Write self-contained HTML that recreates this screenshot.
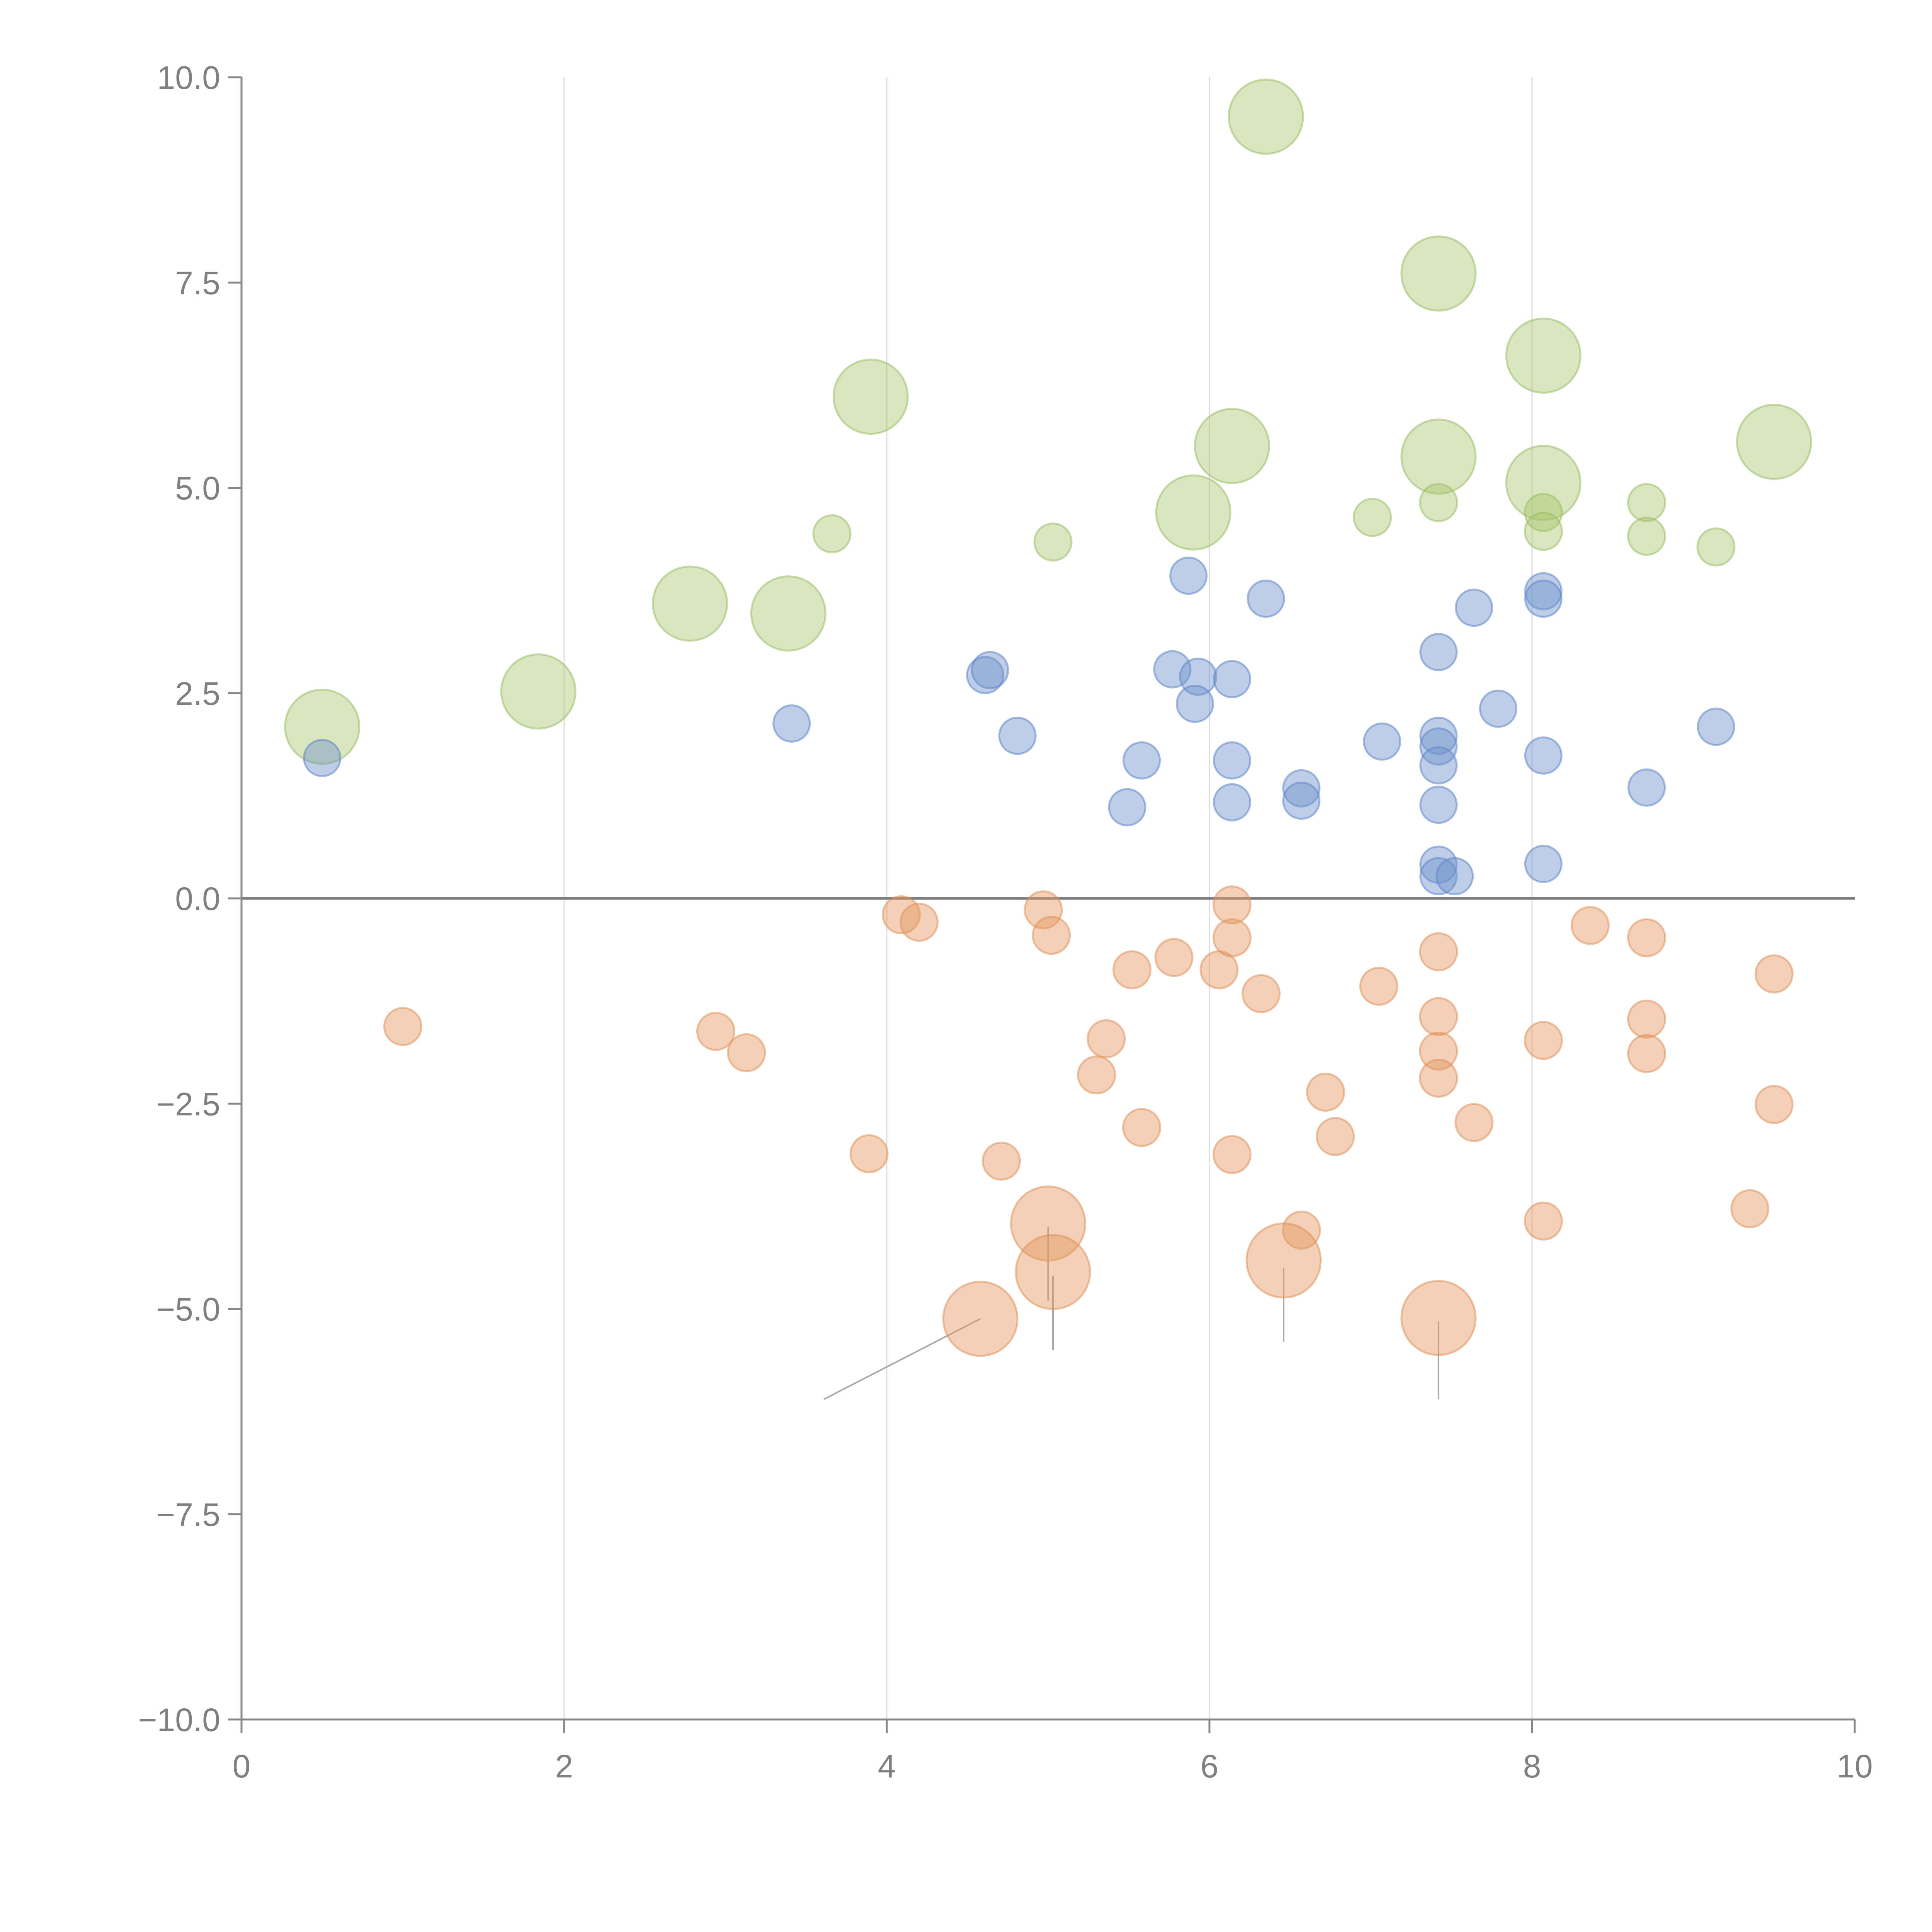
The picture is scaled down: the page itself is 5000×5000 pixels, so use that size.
<!DOCTYPE html>
<html><head><meta charset="utf-8"><style>html,body{margin:0;padding:0;background:#fff}svg{display:block}</style></head>
<body>
<svg id="chart" width="5000" height="5000" viewBox="0 0 5000 5000" xmlns="http://www.w3.org/2000/svg" font-family="Liberation Sans, sans-serif"></svg>
<script>
const xTicks=[0,2,4,6,8,10];
const yTicks=[-10,-7.5,-5,-2.5,0,2.5,5,7.5,10];
const yTickLabels=["\u221210.0","\u22127.5","\u22125.0","\u22122.5","0.0","2.5","5.0","7.5","10.0"];
const greenBigX=[0.50,1.84,2.78,3.39,3.90,5.90,6.14,6.35,7.42,7.42,8.07,8.07,9.50];
const greenBigY=[2.09,2.52,3.59,3.47,6.11,4.70,5.51,9.52,7.61,5.38,6.61,5.06,5.56];
const greenSmallX=[3.66,5.03,7.01,7.42,8.07,8.07,8.71,8.71,9.14];
const greenSmallY=[4.44,4.34,4.64,4.82,4.70,4.47,4.82,4.41,4.28];
const blueX=[0.50,3.41,4.61,4.64,4.81,5.49,5.58,5.77,5.87,5.93,5.91,6.14,6.14,6.14,6.35,6.57,6.57,7.07,7.42,7.42,7.42,7.42,7.42,7.42,7.42,7.52,7.64,7.79,8.07,8.07,8.07,8.07,8.71,9.14];
const blueY=[1.71,2.13,2.72,2.78,1.98,1.11,1.68,2.79,3.93,2.70,2.37,2.67,1.68,1.17,3.65,1.34,1.19,1.91,3.00,1.98,1.85,1.62,1.14,0.41,0.27,0.27,3.54,2.31,3.74,3.65,1.74,0.42,1.35,2.09];
const orangeSmallX=[1.0,2.94,3.13,3.89,4.09,4.20,4.71,4.97,5.02,5.30,5.36,5.52,5.58,5.78,6.06,6.14,6.14,6.14,6.32,6.57,6.72,6.78,7.05,7.42,7.42,7.42,7.42,7.64,8.07,8.07,8.36,8.71,8.71,8.71,9.35,9.50,9.50];
const orangeSmallY=[-1.56,-1.62,-1.88,-3.11,-0.20,-0.29,-3.20,-0.14,-0.45,-2.15,-1.71,-0.87,-2.79,-0.72,-0.87,-0.08,-0.48,-3.12,-1.16,-4.04,-2.36,-2.90,-1.07,-0.65,-1.44,-1.86,-2.19,-2.73,-1.73,-3.93,-0.33,-0.48,-1.47,-1.89,-3.78,-0.92,-2.51];
const orangeBigX=[4.58,5.00,5.03,6.46,7.42];
const orangeBigY=[-5.12,-3.96,-4.55,-4.41,-5.11];
const leaderFromX=[4.58,5.00,5.03,6.46,7.42];
const leaderFromY=[-5.12,-4.0,-4.6,-4.5,-5.15];
const leaderToX=[3.61,5.00,5.03,6.46,7.42];
const leaderToY=[-6.1,-4.9,-5.5,-5.4,-6.1];

const L=625,R=4800,T=200,B=4450;
const X=v=>L+(v-0)/10*(R-L);
const Y=v=>T+(10-v)/20*(B-T);
const svg=document.getElementById('chart');
const NS='http://www.w3.org/2000/svg';
function mk(tag,attrs,parent){const e=document.createElementNS(NS,tag);for(const k in attrs)e.setAttribute(k,attrs[k]);(parent||svg).appendChild(e);return e;}

xTicks.forEach(t=>{if(t>0&&t<10){const g=mk('line',{x1:X(t),x2:X(t),y1:T,y2:B,stroke:'#dcdcdc','stroke-width':3});

}});
const z=mk('line',{x1:L,x2:R,y1:Y(0),y2:Y(0),stroke:'#808080','stroke-width':7});


const ya=mk('line',{x1:L,x2:L,y1:T,y2:B,stroke:'#888','stroke-width':5});


const xa=mk('line',{x1:L,x2:R,y1:B,y2:B,stroke:'#888','stroke-width':5});


yTicks.forEach((t,i)=>{
  const tk=mk('line',{x1:L-35,x2:L,y1:Y(t),y2:Y(t),stroke:'#888','stroke-width':5});
  
  
  const tx=mk('text',{x:L-55,y:Y(t)+30,'text-anchor':'end','font-size':84,fill:'#808080'});
  tx.textContent=yTickLabels[i];
  
  
});
xTicks.forEach(t=>{
  const tk=mk('line',{x1:X(t),x2:X(t),y1:B,y2:B+35,stroke:'#888','stroke-width':5});
  
  
  const tx=mk('text',{x:X(t),y:B+150,'text-anchor':'middle','font-size':84,fill:'#808080'});
  tx.textContent=String(t);
  
  
});
leaderFromX.forEach((v,i)=>{
  const l=mk('line',{x1:X(v),y1:Y(leaderFromY[i]),x2:X(leaderToX[i]),y2:Y(leaderToY[i]),stroke:'#a8a8a8','stroke-width':4});
  
  
});
function bubbles(xs,ys,r,fill,stroke,name){
  xs.forEach((v,i)=>{
    const c=mk('circle',{cx:X(v),cy:Y(ys[i]),r:r,fill:fill,stroke:stroke,'stroke-width':5});
    
    
  });
}
bubbles(greenBigX,greenBigY,96,'rgba(166,196,106,0.42)','rgba(150,185,95,0.5)','green-bubble-large');
bubbles(greenSmallX,greenSmallY,48,'rgba(166,196,106,0.42)','rgba(150,185,95,0.5)','green-bubble-small');
bubbles(blueX,blueY,47,'rgba(110,146,204,0.45)','rgba(95,135,200,0.55)','blue-bubble');
bubbles(orangeSmallX,orangeSmallY,48,'rgba(228,150,95,0.45)','rgba(222,142,85,0.5)','orange-bubble-small');
bubbles(orangeBigX,orangeBigY,96,'rgba(228,150,95,0.45)','rgba(222,142,85,0.5)','orange-bubble-large');
</script>
</body></html>
